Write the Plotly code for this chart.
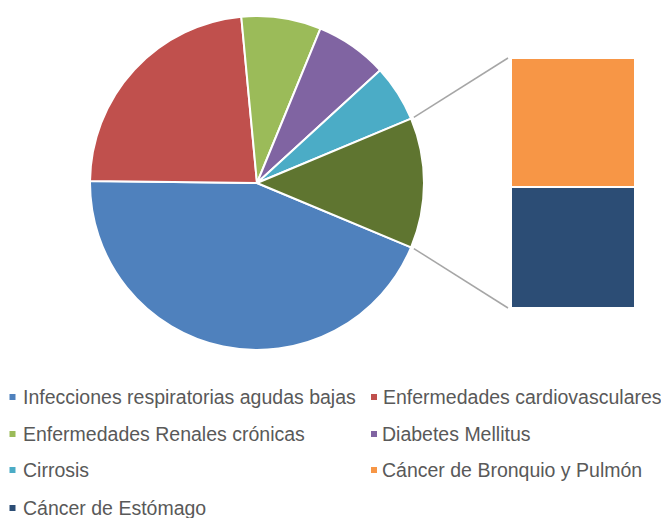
import math
import plotly.graph_objects as go

# ---- data ----
pie_labels = ["Infecciones respiratorias agudas bajas", "Enfermedades cardiovasculares",
              "Enfermedades Renales crónicas", "Diabetes Mellitus", "Cirrosis"]
pie_values = [43.9, 23.3, 7.7, 7.0, 5.5]
bar_labels = ["Cáncer de Bronquio y Pulmón", "Cáncer de Estómago"]
bar_values = [6.5, 6.1]
other_label = "Otros"

pie_colors = ["#4F81BD", "#C0504D", "#9BBB59", "#8064A2", "#4BACC6"]
bar_colors = ["#F79646", "#2C4D75"]
other_color = "#5F7530"

W, H = 669, 518
OFF = 8  # page body margin of the html page
FONT = "Liberation Sans, Arial, sans-serif"
TEXT_COLOR = "#595959"

other_value = sum(bar_values)
total = sum(pie_values) + other_value

# layout geometry (pixels in the screenshot)
pie_px = dict(x0=90, x1=424, y0=16, y1=350)
bar_px = dict(x0=511, x1=635, y0=58, y1=308)

def px_x(v):
    return (v - OFF) / W

def px_y(v):
    return 1 - (v - OFF) / H

fig = go.Figure()

rotation = 90 + 180 * other_value / total
fig.add_trace(go.Pie(
    labels=pie_labels + [other_label],
    values=pie_values + [other_value],
    sort=False, direction="clockwise", rotation=rotation,
    marker=dict(colors=pie_colors + [other_color], line=dict(color="white", width=2)),
    textinfo="none", showlegend=False,
    domain=dict(x=[px_x(pie_px["x0"]), px_x(pie_px["x1"])],
                y=[px_y(pie_px["y1"]), px_y(pie_px["y0"])]),
))

# stacked bar: first listed item on top
for lab, val, col in reversed(list(zip(bar_labels, bar_values, bar_colors))):
    fig.add_trace(go.Bar(
        x=[0], y=[val], name=lab, width=1,
        marker=dict(color=col, line=dict(color="white", width=2)),
        showlegend=False, xaxis="x", yaxis="y",
    ))

# legend grid (two columns, row-wise), drawn as text + small squares
all_labels = pie_labels + bar_labels
all_colors = pie_colors + bar_colors
col_text_x = [21.5, 381.5]
col_mark_x = [12.5, 374]
row_y = [397, 434, 470, 508]
mark = 3
annotations = []
shapes = []
for i, (lab, col) in enumerate(zip(all_labels, all_colors)):
    cxm = col_mark_x[i % 2]
    ry = row_y[i // 2]
    annotations.append(dict(
        x=px_x(col_text_x[i % 2]), y=px_y(ry), xref="paper", yref="paper",
        xanchor="left", yanchor="middle", text=lab, showarrow=False, borderpad=0,
        font=dict(family=FONT, size=19.5, color=TEXT_COLOR),
    ))
    shapes.append(dict(
        type="rect", xref="paper", yref="paper",
        x0=px_x(cxm - mark), x1=px_x(cxm + mark), y0=px_y(ry + mark), y1=px_y(ry - mark),
        fillcolor=col, line=dict(width=0),
    ))

# connector lines from pie "other" slice edges to bar corners
cx = (pie_px["x0"] + pie_px["x1"]) / 2
cy = (pie_px["y0"] + pie_px["y1"]) / 2
r = min(pie_px["x1"] - pie_px["x0"], pie_px["y1"] - pie_px["y0"]) / 2
half = math.pi * other_value / total
gap = 3
sx = cx + (r + gap) * math.cos(half)
sy_top = cy - (r + gap) * math.sin(half)
sy_bot = cy + (r + gap) * math.sin(half)
shapes += [
    dict(type="line", xref="paper", yref="paper",
         x0=px_x(sx), y0=px_y(sy_top), x1=px_x(bar_px["x0"] - gap), y1=px_y(bar_px["y0"]),
         line=dict(color="#A6A6A6", width=1.5)),
    dict(type="line", xref="paper", yref="paper",
         x0=px_x(sx), y0=px_y(sy_bot), x1=px_x(bar_px["x0"] - gap), y1=px_y(bar_px["y1"]),
         line=dict(color="#A6A6A6", width=1.5)),
]

fig.update_layout(
    width=W, height=H,
    margin=dict(l=0, r=0, t=0, b=0, autoexpand=False),
    paper_bgcolor="white", plot_bgcolor="white",
    barmode="stack", bargap=0, showlegend=False,
    xaxis=dict(domain=[px_x(bar_px["x0"]), px_x(bar_px["x1"])], range=[-0.5, 0.5],
               visible=False, fixedrange=True),
    yaxis=dict(domain=[px_y(bar_px["y1"]), px_y(bar_px["y0"])], range=[0, other_value],
               visible=False, fixedrange=True),
    shapes=shapes,
    annotations=annotations,
)

fig.write_html("out.html")
